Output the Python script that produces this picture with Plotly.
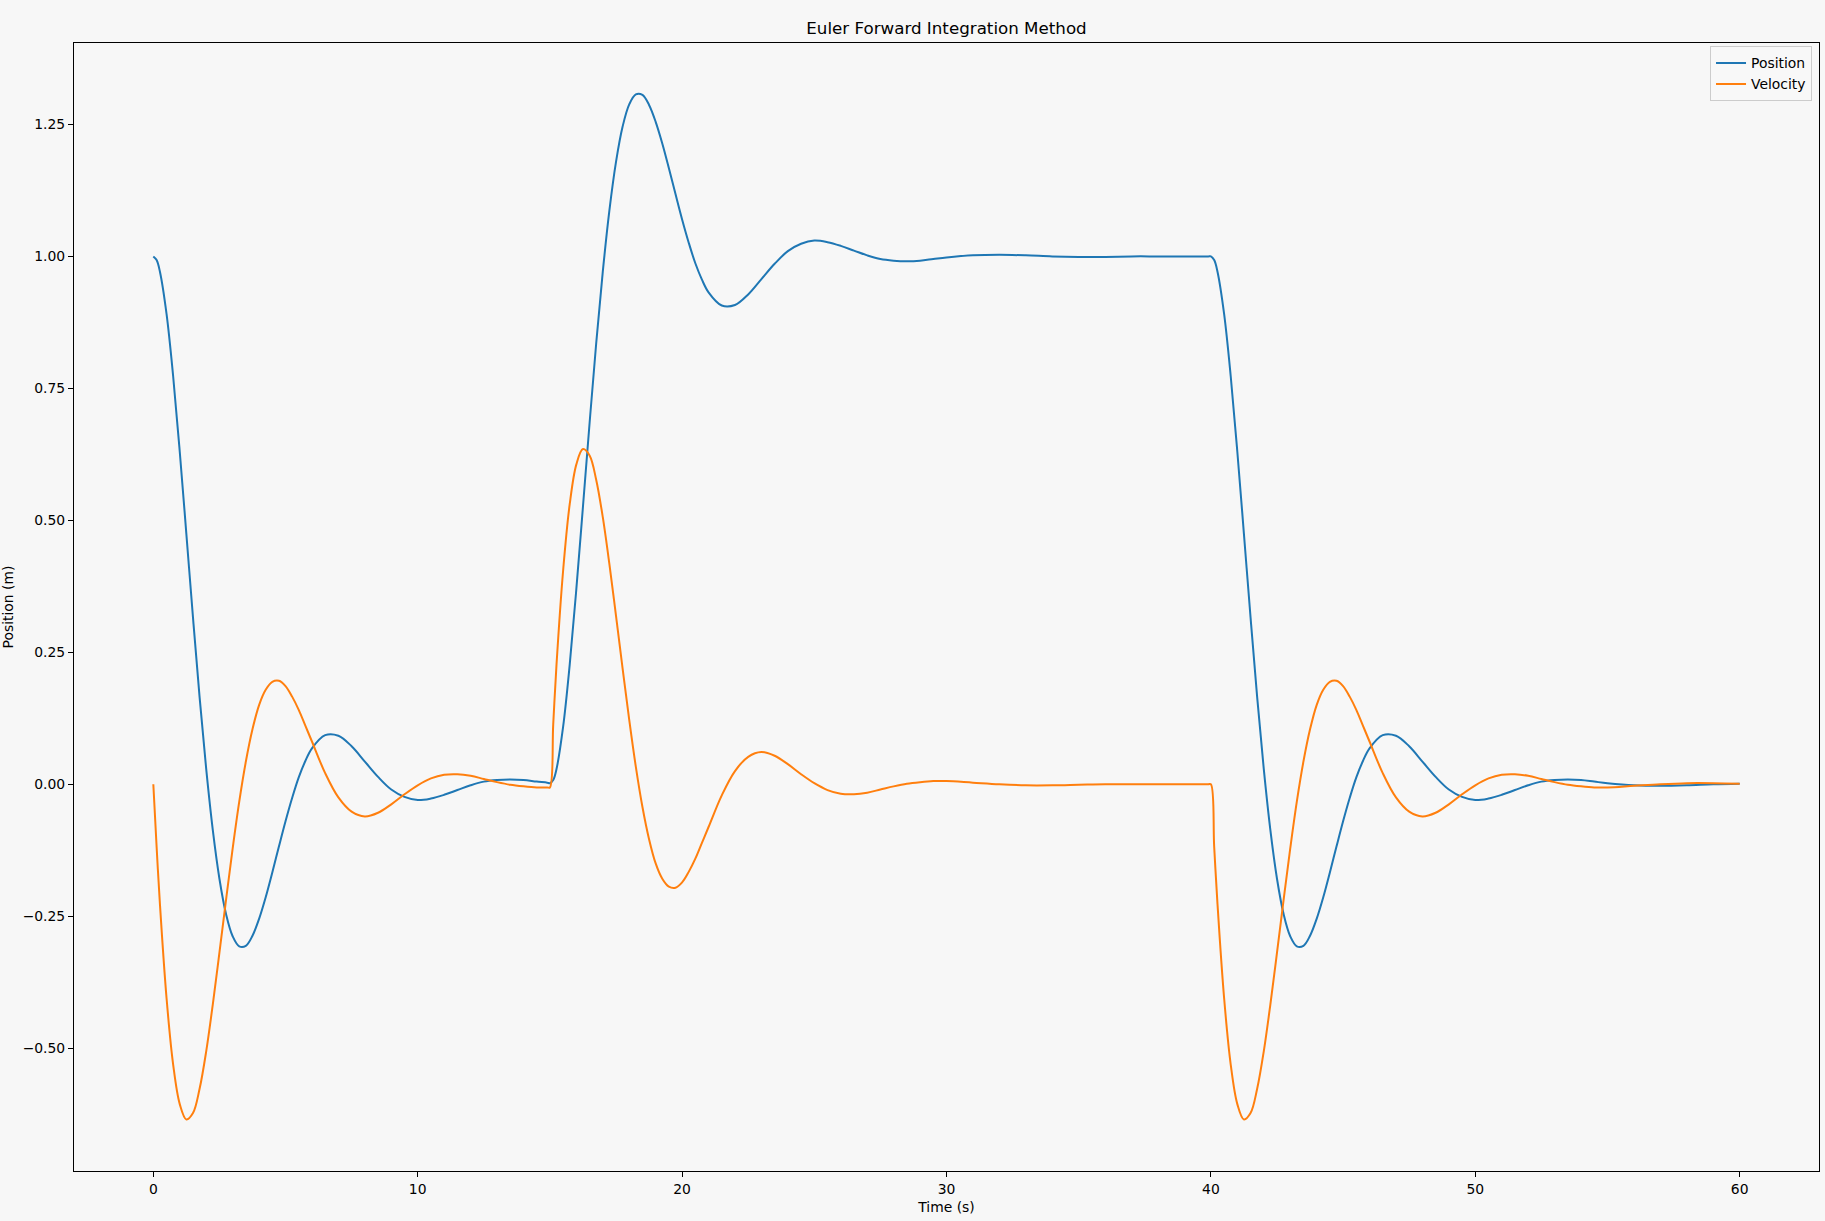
import plotly.graph_objects as go

# Time samples (s)
time_s = [
    0.0, 0.125, 0.25, 0.5, 0.75, 1.0, 1.25, 1.5, 1.75, 2.0, 2.25, 2.5, 2.75, 3.0, 3.25, 3.5, 3.75,
    4.0, 4.25, 4.5, 4.75, 5.0, 5.25, 5.5, 5.75, 6.0,
    6.5, 7.0, 7.5, 8.0, 8.5, 9.0, 9.5, 10.0, 10.5, 11.0, 11.5, 12.0, 12.5, 13.0, 13.5, 14.0, 14.5, 14.9, 15.0,
    15.125, 15.25, 15.5, 15.75, 16.0, 16.25, 16.5, 16.75, 17.0, 17.25, 17.5, 17.75, 18.0, 18.25, 18.5, 18.75,
    19.0, 19.25, 19.5, 19.75, 20.0, 20.25, 20.5, 20.75, 21.0,
    21.5, 22.0, 22.5, 23.0, 23.5, 24.0, 24.5, 25.0, 25.5, 26.0, 26.5, 27.0, 27.5, 28.0, 28.5, 29.0, 29.5, 30.0,
    31.0, 32.0, 33.0, 34.0, 35.0, 36.0, 37.0, 38.0, 39.0, 39.9, 40.0,
    40.125, 40.25, 40.5, 40.75, 41.0, 41.25, 41.5, 41.75, 42.0, 42.25, 42.5, 42.75, 43.0, 43.25, 43.5, 43.75,
    44.0, 44.25, 44.5, 44.75, 45.0, 45.25, 45.5, 45.75, 46.0,
    46.5, 47.0, 47.5, 48.0, 48.5, 49.0, 49.5, 50.0, 50.5, 51.0, 51.5, 52.0, 52.5, 53.0, 53.5, 54.0, 54.5, 55.0,
    56.0, 57.0, 58.0, 59.0, 60.0,
]

# Position (m)
position_m = [
    1.000, 0.993, 0.971, 0.891, 0.773, 0.630, 0.474, 0.316, 0.165, 0.029, -0.087, -0.179, -0.246, -0.288, -0.307,
    -0.306, -0.287, -0.255, -0.214, -0.167, -0.118, -0.070, -0.026, 0.013, 0.044, 0.068,
    0.093, 0.092, 0.072, 0.043, 0.014, -0.010, -0.024, -0.030, -0.027, -0.020, -0.011, -0.002, 0.005, 0.008,
    0.009, 0.008, 0.005, 0.003, 0.002,
    0.008, 0.029, 0.109, 0.227, 0.370, 0.526, 0.684, 0.835, 0.971, 1.087, 1.179, 1.246, 1.288, 1.307, 1.306,
    1.287, 1.255, 1.214, 1.167, 1.118, 1.070, 1.026, 0.987, 0.956, 0.932,
    0.907, 0.908, 0.928, 0.957, 0.986, 1.010, 1.024, 1.030, 1.027, 1.020, 1.011, 1.002, 0.995, 0.992,
    0.991, 0.992, 0.995, 0.998,
    1.002, 1.003, 1.002, 1.000, 0.999, 0.999, 1.000, 1.000, 1.000, 1.000, 1.000,
    0.993, 0.971, 0.891, 0.773, 0.630, 0.474, 0.316, 0.165, 0.029, -0.087, -0.179, -0.246, -0.288, -0.307,
    -0.306, -0.287, -0.255, -0.214, -0.167, -0.118, -0.070, -0.026, 0.013, 0.044, 0.068,
    0.093, 0.092, 0.072, 0.043, 0.014, -0.010, -0.024, -0.030, -0.027, -0.020, -0.011, -0.002, 0.005, 0.008,
    0.009, 0.008, 0.005, 0.002,
    -0.002, -0.003, -0.002, 0.000, 0.001,
]

# Velocity (m/s)
velocity_ms = [
    0.000, -0.119, -0.227, -0.405, -0.531, -0.606, -0.635, -0.623, -0.577, -0.506, -0.417, -0.319, -0.219, -0.122,
    -0.033, 0.043, 0.104, 0.150, 0.179, 0.194, 0.196, 0.186, 0.166, 0.141, 0.111, 0.081,
    0.021, -0.025, -0.052, -0.061, -0.054, -0.038, -0.019, -0.002, 0.011, 0.018, 0.019, 0.016, 0.010, 0.004,
    -0.001, -0.004, -0.006, -0.006, -0.006,
    0.113, 0.227, 0.405, 0.531, 0.606, 0.635, 0.623, 0.577, 0.506, 0.417, 0.319, 0.219, 0.122, 0.033, -0.043,
    -0.104, -0.150, -0.179, -0.194, -0.196, -0.186, -0.166, -0.141, -0.111, -0.081,
    -0.021, 0.025, 0.052, 0.061, 0.054, 0.038, 0.019, 0.002, -0.011, -0.018, -0.019, -0.016, -0.010, -0.004,
    0.001, 0.004, 0.006, 0.006,
    0.003, 0.000, -0.002, -0.002, -0.001, 0.000, 0.000, 0.000, 0.000, 0.000, 0.000,
    -0.119, -0.227, -0.405, -0.531, -0.606, -0.635, -0.623, -0.577, -0.506, -0.417, -0.319, -0.219, -0.122, -0.033,
    0.043, 0.104, 0.150, 0.179, 0.194, 0.196, 0.186, 0.166, 0.141, 0.111, 0.081,
    0.021, -0.025, -0.052, -0.061, -0.054, -0.038, -0.019, -0.002, 0.011, 0.018, 0.019, 0.016, 0.010, 0.004,
    -0.001, -0.004, -0.006, -0.006,
    -0.003, 0.000, 0.002, 0.002, 0.001,
]

x_ticks = [0, 10, 20, 30, 40, 50, 60]
y_ticks = [-0.50, -0.25, 0.00, 0.25, 0.50, 0.75, 1.00, 1.25]

FONT = "DejaVu Sans"
BG = "#f7f7f7"

fig = go.Figure()
fig.add_trace(go.Scatter(x=time_s, y=position_m, mode="lines", name="Position",
                         line=dict(color="#1f77b4", width=2, shape="spline", smoothing=1)))
fig.add_trace(go.Scatter(x=time_s, y=velocity_ms, mode="lines", name="Velocity",
                         line=dict(color="#ff7f0e", width=2, shape="spline", smoothing=1)))

fig.update_layout(
    width=1825, height=1221,
    paper_bgcolor=BG, plot_bgcolor=BG,
    margin=dict(l=72, r=5, t=43, b=50),
    font=dict(family=FONT, size=13.9, color="black"),
    title=dict(text="Euler Forward Integration Method", x=0.5, xref="paper", xanchor="center",
               y=1 - 28 / 1221, yref="container", yanchor="middle",
               font=dict(family=FONT, size=16.7, color="black")),
    showlegend=True,
    legend=dict(x=0.996, y=0.997, xanchor="right", yanchor="top",
                bgcolor="rgba(247,247,247,0.8)", bordercolor="#cccccc", borderwidth=1,
                font=dict(family=FONT, size=13.9), tracegroupgap=0, itemwidth=30),
)
fig.update_xaxes(
    range=[-3, 63], tickvals=x_ticks, ticktext=[str(v) for v in x_ticks],
    showgrid=False, zeroline=False, showline=True, linecolor="black", linewidth=1, mirror=True,
    ticks="outside", ticklen=5, tickwidth=1, tickcolor="black",
    title=dict(text="Time (s)", standoff=6, font=dict(family=FONT, size=13.9)),
)
fig.update_yaxes(
    range=[-0.7327, 1.4043], tickvals=y_ticks, tickformat=".2f",
    showgrid=False, zeroline=False, showline=True, linecolor="black", linewidth=1, mirror=True,
    ticks="outside", ticklen=5, tickwidth=1, tickcolor="black",
    title=dict(text="Position (m)", standoff=8, font=dict(family=FONT, size=13.9)),
)

fig.write_html("out.html", config={"displayModeBar": False},
               post_script="document.body.style.margin='0';document.body.style.padding='0';")
